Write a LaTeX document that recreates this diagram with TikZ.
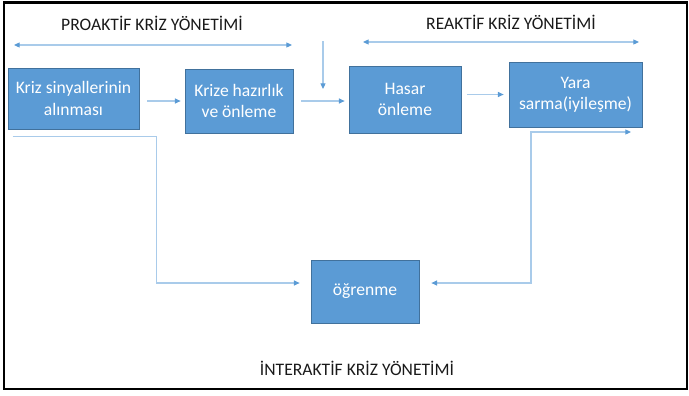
\documentclass[tikz,border=0pt]{standalone}
\usepackage{fontspec}
\setmainfont{Carlito}
\usepackage{tikz}
\usetikzlibrary{arrows.meta,calc}
\definecolor{kutumavi}{HTML}{5B9BD5}
\definecolor{kutukenar}{HTML}{41719C}
\definecolor{okmavi}{HTML}{A9CBEA}
\tikzset{ucu/.tip={Triangle[length=0.17cm,width=0.15cm,color=kutumavi]}}

\begin{document}
\begin{tikzpicture}[
  kutu/.style={rectangle, draw=kutukenar, fill=kutumavi, line width=0.6pt, text=white, align=center, inner sep=0pt, font=\fontsize{15}{18}\selectfont},
  ok/.style={draw=okmavi, line width=0.9pt, -ucu},
  baslik/.style={text=black!90, font=\fontsize{15}{18}\selectfont}
]
\useasboundingbox (0cm,0cm) rectangle (20.67cm,-11.85cm);
\draw[black, line width=2pt] (0.12cm,-0.07cm) rectangle (20.6cm,-11.66cm);
% kutular
\node[kutu, minimum width=3.93cm, minimum height=1.83cm] (sinyal) at (2.205cm,-2.955cm) {Kriz sinyallerinin\\alınması};
\node[kutu, minimum width=3.24cm, minimum height=1.92cm] (hazirlik) at (7.17cm,-3.03cm) {Krize hazırlık\\ve önleme};
\node[kutu, minimum width=3.36cm, minimum height=2.01cm] (hasar) at (12.15cm,-2.985cm) {Hasar\\önleme};
\node[kutu, minimum width=3.99cm, minimum height=1.95cm] (yara) at (17.265cm,-2.835cm) {Yara\\sarma(iyileşme)};
\node[kutu, minimum width=3.24cm, minimum height=1.89cm] (ogrenme) at (10.95cm,-8.745cm) {öğrenme};
% basliklar
\node[baslik] (proaktif) at (4.56cm,-0.69cm) {PROAKTİF KRİZ YÖNETİMİ};
\node[baslik] (reaktif) at (15.33cm,-0.66cm) {REAKTİF KRİZ YÖNETİMİ};
\node[baslik] (interaktif) at (10.71cm,-11.04cm) {İNTERAKTİF KRİZ YÖNETİMİ};
% oklar
\coordinate (pbas) at (0.42cm,-1.35cm);
\coordinate (pson) at (8.76cm,-1.35cm);
\coordinate (rbas) at (10.89cm,-1.26cm);
\coordinate (rson) at (19.17cm,-1.26cm);
\coordinate (dikust) at (9.69cm,-1.23cm);
\coordinate (dikalt) at (9.69cm,-2.67cm);
\coordinate (dugum) at (15.93cm,-3.96cm);
\coordinate (yaraalt) at (18.93cm,-3.96cm);
\draw[ok, ucu-ucu] (pbas) -- (pson);
\draw[ok, ucu-ucu] (rbas) -- (rson);
\draw[ok] (dikust) -- (dikalt);
\draw[ok, shorten <=0.24cm, shorten >=0.12cm] (sinyal.east |- hazirlik.west) -- (hazirlik.west);
\draw[ok, shorten <=0.24cm, shorten >=0.12cm] (hazirlik.east) -- (hazirlik.east -| hasar.west);
\draw[ok, shorten <=0.18cm, shorten >=0.15cm] (hasar.east |- yara.west) -- (yara.west);
\draw[ok, shorten >=0.33cm] ([xshift=0.15cm,yshift=-0.21cm]sinyal.south west) -- ++(4.32cm,0) |- ([yshift=0.255cm]ogrenme.west);
\draw[ok, ucu-ucu, shorten <=0.36cm] ([yshift=0.255cm]ogrenme.east) -| (dugum) -- (yaraalt);
\end{tikzpicture}
\end{document}
